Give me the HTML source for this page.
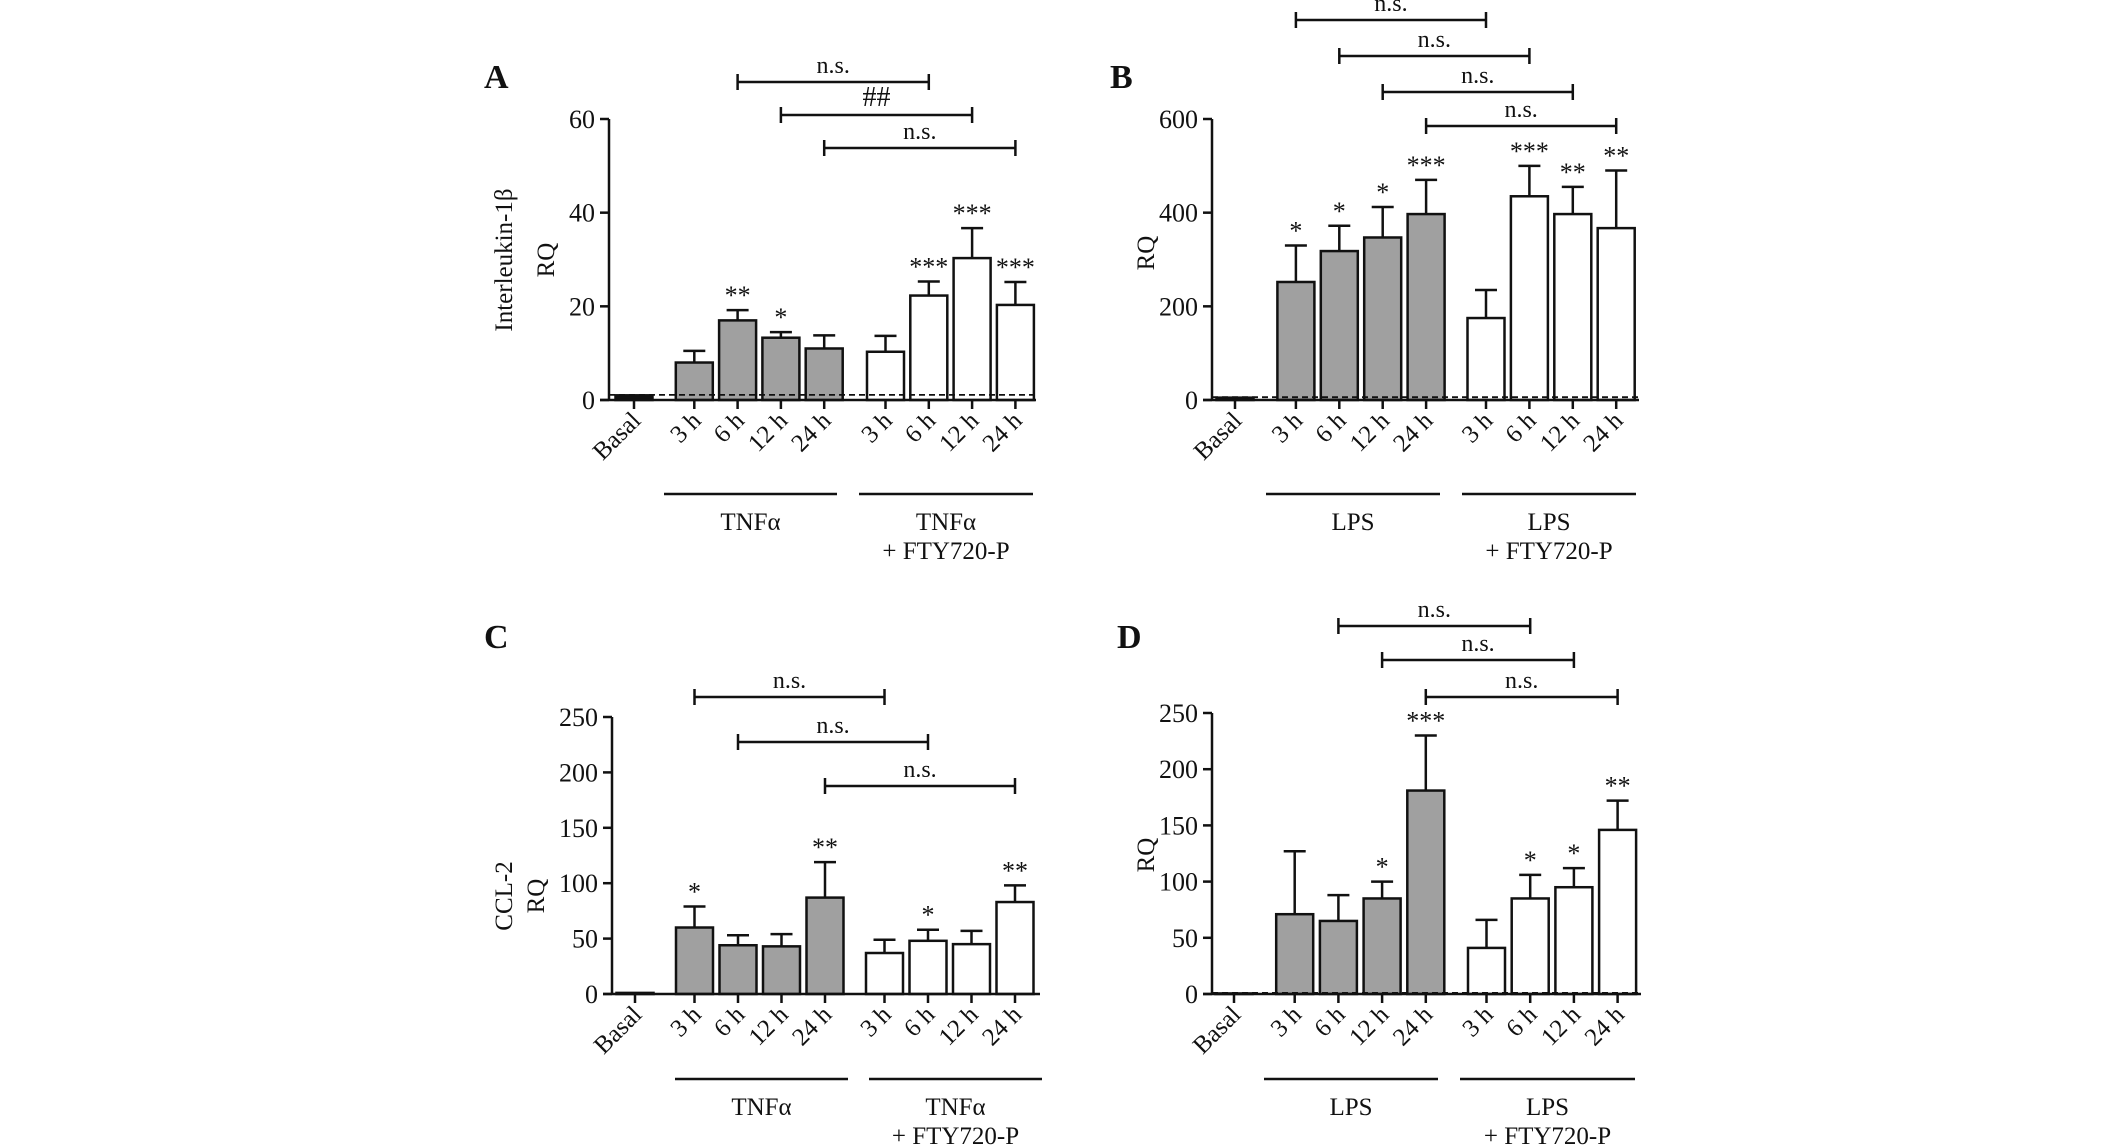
<!DOCTYPE html>
<html><head><meta charset="utf-8">
<style>
html,body{margin:0;padding:0;background:#fff;overflow:hidden;}
svg{display:block;font-family:"Liberation Serif",serif;}
</style></head>
<body>
<svg id="fig" width="2126" height="1147" viewBox="0 0 2126 1147" xmlns="http://www.w3.org/2000/svg"></svg>
<script>
const categories = ["Basal","3 h","6 h","12 h","24 h","3 h","6 h","12 h","24 h"];
const valuesA = [1, 8, 17, 13.3, 11, 10.3, 22.3, 30.3, 20.3];
const errorsA = [0, 10.5, 19.2, 14.5, 13.8, 13.7, 25.3, 36.7, 25.2];
const starsA = ["", "", "**", "*", "", "", "***", "***", "***"];
const ticksA = [0, 20, 40, 60];
const valuesB = [5, 252, 318, 347, 397, 175, 435, 397, 367];
const errorsB = [0, 330, 372, 412, 470, 235, 500, 455, 490];
const starsB = ["", "*", "*", "*", "***", "", "***", "**", "**"];
const ticksB = [0, 200, 400, 600];
const valuesC = [1, 60, 44, 43, 87, 37, 48, 45, 83];
const errorsC = [0, 79, 53, 54, 119, 49, 58, 57, 98];
const starsC = ["", "*", "", "", "**", "", "*", "", "**"];
const ticksC = [0, 50, 100, 150, 200, 250];
const valuesD = [0.5, 71, 65, 85, 181, 41, 85, 95, 146];
const errorsD = [0, 127, 88, 100, 230, 66, 106, 112, 172];
const starsD = ["", "", "", "*", "***", "", "*", "*", "**"];
const ticksD = [0, 50, 100, 150, 200, 250];

const NS = "http://www.w3.org/2000/svg";
const svg = document.getElementById("fig");
function mk(tag, attrs, parent, name){
  const e = document.createElementNS(NS, tag);
  for (const k in attrs) e.setAttribute(k, attrs[k]);
  
  
  (parent||svg).appendChild(e);
  return e;
}
function txt(x,y,s,size,parent,name,extra){
  const t = mk("text", Object.assign({x:x,y:y,"font-size":size,fill:"#111"}, extra||{}), parent, name);
  t.textContent = s;
  return t;
}

function panel(cfg){
  const g = mk("g", {}, svg, "panel-"+cfg.letter.toLowerCase());
  const ymax = cfg.ticks[cfg.ticks.length-1];
  const y = v => cfg.y0 - (v / ymax) * (cfg.y0 - cfg.yTop);
  const x = i => cfg.cx0 + i*cfg.step + (i>=1?cfg.gap1:0) + (i>=5?cfg.gap2:0);
  const bw = 37;
  txt(cfg.lx, cfg.ly, cfg.letter, 34, g, "panel-letter", {"font-weight":"bold"});
  mk("line",{x1:cfg.ax,y1:cfg.yTop,x2:cfg.ax,y2:cfg.y0,stroke:"#111","stroke-width":2.5},g,"y-axis");
  cfg.ticks.forEach(t=>{
    mk("line",{x1:cfg.ax-9,y1:y(t),x2:cfg.ax,y2:y(t),stroke:"#111","stroke-width":2.5},g,"y-tick");
    txt(cfg.ax-14, y(t)+9, String(t), 26, g, "y-tick-label", {"text-anchor":"end"});
  });
  cfg.ylab.forEach((s,k)=>{
    const xx = cfg.ylx[k];
    txt(xx, cfg.yly, s, 25, g, "y-axis-title", {"text-anchor":"middle",transform:`rotate(-90 ${xx} ${cfg.yly})`});
  });
  categories.forEach((c,i)=>{
    const v = cfg.values[i], cx = x(i);
    const fill = i===0 ? (cfg.basalBlack?"#111":"#fff") : (i<5?"#a0a0a0":"#fff");
    if (cfg.errors[i] > v){
      mk("line",{x1:cx,y1:y(v),x2:cx,y2:y(cfg.errors[i]),stroke:"#111","stroke-width":2.5},g,"error-bar");
      mk("line",{x1:cx-11,y1:y(cfg.errors[i]),x2:cx+11,y2:y(cfg.errors[i]),stroke:"#111","stroke-width":2.5},g,"error-cap");
    }
    mk("rect",{x:cx-bw/2,y:y(v),width:bw,height:Math.max(cfg.y0-y(v),0.5),fill:fill,stroke:"#111","stroke-width":2.5},g,"bar-"+i);
    if (cfg.stars[i]) txt(cx, y(cfg.errors[i])-6, cfg.stars[i], 26, g, "significance-stars", {"text-anchor":"middle"});
    mk("line",{x1:cx,y1:cfg.y0,x2:cx,y2:cfg.y0+9,stroke:"#111","stroke-width":2.5},g,"x-tick");
    const tx = cx+8, ty = cfg.y0+22;
    txt(tx, ty, c, 25, g, "x-tick-label", {"text-anchor":"end",transform:`rotate(-45 ${tx} ${ty})`});
  });
  if (cfg.dash != null)
    mk("line",{x1:cfg.ax,y1:y(cfg.dash),x2:cfg.axEnd,y2:y(cfg.dash),stroke:"#111","stroke-width":1.8,"stroke-dasharray":"6 4"},g,"baseline-dashed");
  mk("line",{x1:cfg.ax-9,y1:cfg.y0,x2:cfg.axEnd,y2:cfg.y0,stroke:"#111","stroke-width":2.5},g,"x-axis");
  cfg.brackets.forEach(b=>{
    const x1 = x(b[0]), x2 = x(b[1]);
    mk("line",{x1:x1,y1:b[2],x2:x2,y2:b[2],stroke:"#111","stroke-width":2.5},g,"comparison-bracket");
    mk("line",{x1:x1,y1:b[2]-8,x2:x1,y2:b[2]+8,stroke:"#111","stroke-width":2.5},g,"bracket-end");
    mk("line",{x1:x2,y1:b[2]-8,x2:x2,y2:b[2]+8,stroke:"#111","stroke-width":2.5},g,"bracket-end");
    txt((x1+x2)/2, b[2]-9, b[3], b[3]==="##"?28:24, g, "bracket-label", {"text-anchor":"middle"});
  });
  cfg.groups.forEach((gr,k)=>{
    mk("line",{x1:gr[0],y1:cfg.gy,x2:gr[1],y2:cfg.gy,stroke:"#111","stroke-width":2.5},g,"group-line");
    const mx = (gr[0]+gr[1])/2;
    txt(mx, cfg.gy+36, cfg.glab[k][0], 25, g, "group-label", {"text-anchor":"middle"});
    if (cfg.glab[k][1]) txt(mx, cfg.gy+65, cfg.glab[k][1], 25, g, "group-label", {"text-anchor":"middle"});
  });
}

panel({letter:"A",lx:484,ly:88,ax:609,axEnd:1036,yTop:119,y0:400,cx0:634,step:43.3,gap1:17,gap2:18,
  values:valuesA,errors:errorsA,stars:starsA,ticks:ticksA,ylab:["Interleukin-1β","RQ"],ylx:[512,554],yly:260,
  basalBlack:true,dash:1.1,
  brackets:[[2,6,82,"n.s."],[3,7,115,"##"],[4,8,148,"n.s."]],
  gy:494,groups:[[664,837],[859,1033]],glab:[["TNFα"],["TNFα","+ FTY720-P"]]});
panel({letter:"B",lx:1110,ly:88,ax:1212,axEnd:1639,yTop:119,y0:400,cx0:1235,step:43.4,gap1:17.5,gap2:16.5,
  values:valuesB,errors:errorsB,stars:starsB,ticks:ticksB,ylab:["RQ"],ylx:[1154],yly:253,
  dash:6,
  brackets:[[1,5,20,"n.s."],[2,6,56,"n.s."],[3,7,92,"n.s."],[4,8,126,"n.s."]],
  gy:494,groups:[[1266,1440],[1462,1636]],glab:[["LPS"],["LPS","+ FTY720-P"]]});
panel({letter:"C",lx:484,ly:648,ax:612,axEnd:1040,yTop:717,y0:994,cx0:635,step:43.5,gap1:16,gap2:16,
  values:valuesC,errors:errorsC,stars:starsC,ticks:ticksC,ylab:["CCL-2","RQ"],ylx:[512,544],yly:896,
  dash:null,
  brackets:[[1,5,697,"n.s."],[2,6,742,"n.s."],[4,8,786,"n.s."]],
  gy:1079,groups:[[675,848],[869,1042]],glab:[["TNFα"],["TNFα","+ FTY720-P"]]});
panel({letter:"D",lx:1117,ly:648,ax:1212,axEnd:1641,yTop:713,y0:994,cx0:1234,step:43.7,gap1:17,gap2:17,
  values:valuesD,errors:errorsD,stars:starsD,ticks:ticksD,ylab:["RQ"],ylx:[1154],yly:855,
  dash:1,
  brackets:[[2,6,626,"n.s."],[3,7,660,"n.s."],[4,8,697,"n.s."]],
  gy:1079,groups:[[1264,1438],[1460,1635]],glab:[["LPS"],["LPS","+ FTY720-P"]]});
</script>
</body></html>
